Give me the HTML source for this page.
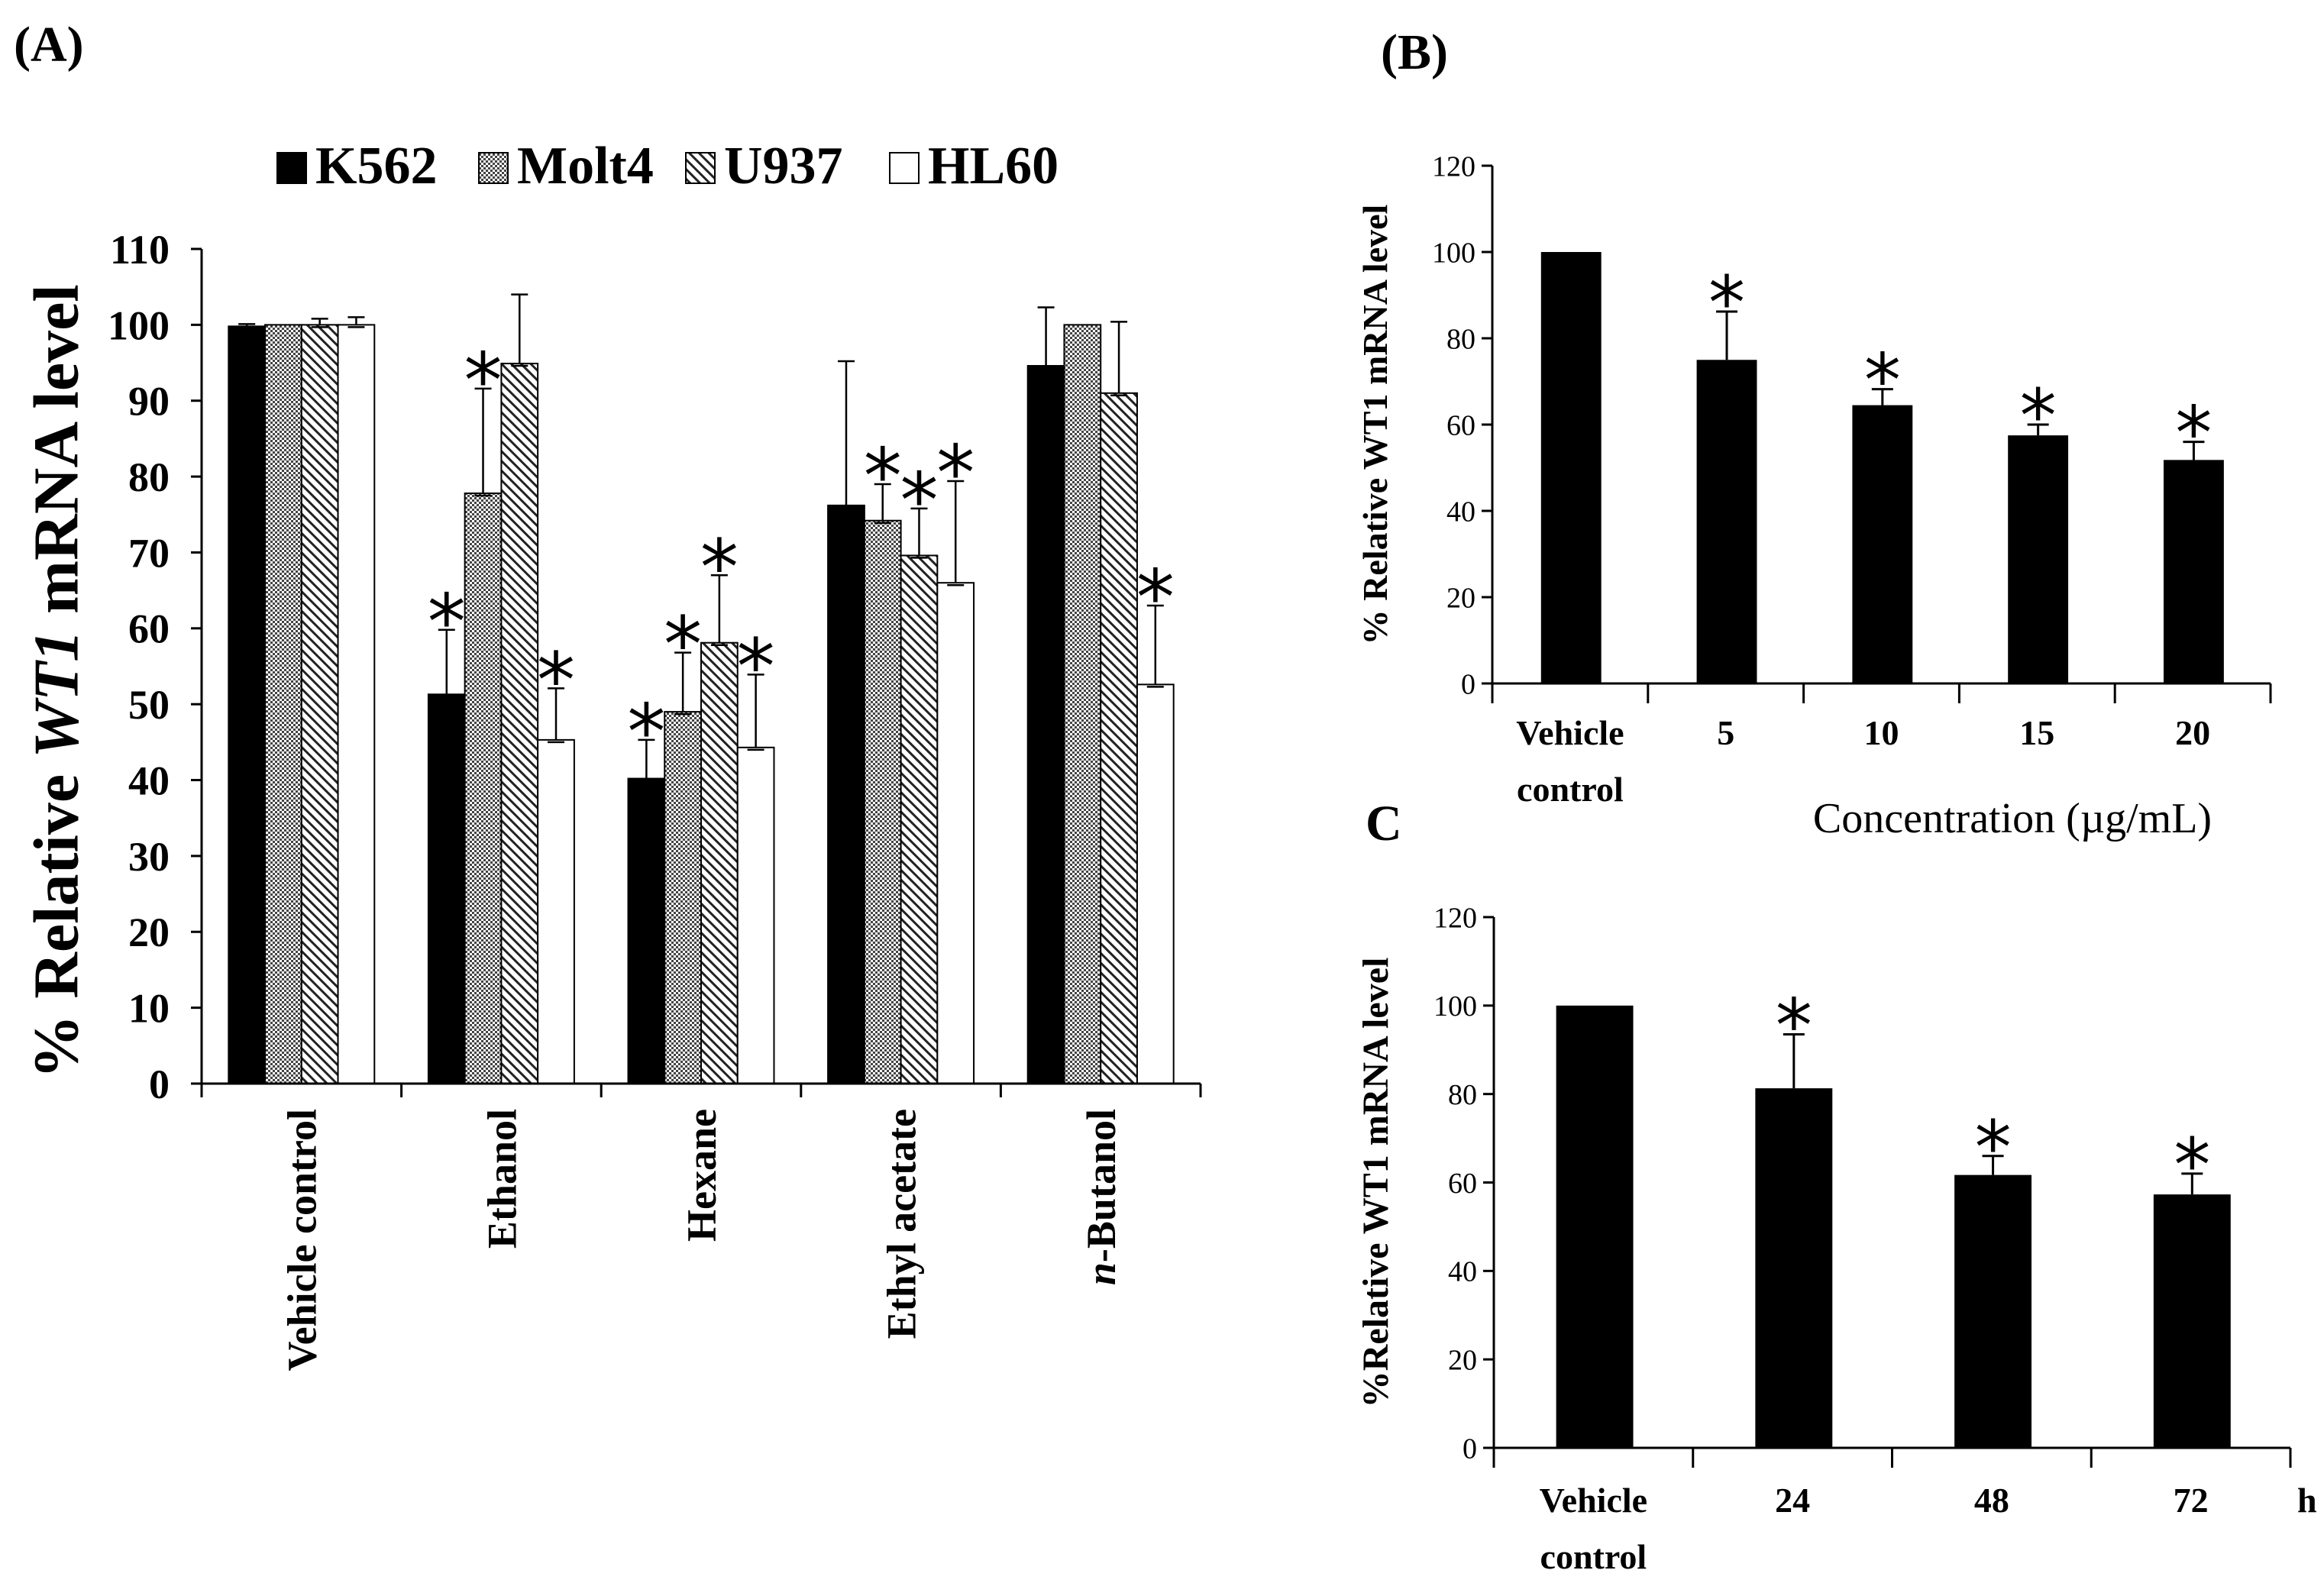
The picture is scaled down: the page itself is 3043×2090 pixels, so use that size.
<!DOCTYPE html>
<html><head><meta charset="utf-8"><style>
html,body{margin:0;padding:0;background:#fff;}
svg{display:block;font-family:"Liberation Serif",serif;}
</style></head><body>
<svg id="fig" width="3043" height="2090" viewBox="0 0 3043 2090" xmlns="http://www.w3.org/2000/svg">
<defs>
<pattern id="pMolt" patternUnits="userSpaceOnUse" width="6" height="6"><rect width="6" height="6" fill="#fff"/><rect width="3" height="3" fill="#444"/><rect x="3" y="3" width="3" height="3" fill="#444"/></pattern>
<pattern id="pU937" patternUnits="userSpaceOnUse" width="9" height="9" patternTransform="rotate(-45)"><rect width="9" height="9" fill="#fff"/><rect width="3" height="9" fill="#222"/></pattern>
</defs>
<text x="18" y="80" font-size="66" font-weight="bold">(A)</text>
<text x="1808" y="90" font-size="66" font-weight="bold">(B)</text>
<text x="1788" y="1100" font-size="66" font-weight="bold">C</text>
<g id="A"></g><g id="B"></g><g id="C"></g>
</svg>
<script>
const NS="http://www.w3.org/2000/svg";
// Panel A data
const catsA=["Vehicle control","Ethanol","Hexane","Ethyl acetate","n-Butanol"];
const seriesA=["K562","Molt4","U937","HL60"];
const k562=[99.8,51.3,40.2,76.2,94.6];
const molt4=[100,77.8,49,74.2,100];
const u937=[100,94.9,58.1,69.6,91];
const hl60=[100,45.3,44.3,66,52.6];
const k562Err=[0.3,8.5,5.1,19,7.7];
const molt4Err=[0,13.8,7.8,4.8,0];
const u937Err=[0.8,9.1,8.9,6.2,9.4];
const hl60Err=[1,6.8,9.6,13.4,10.4];
const k562Sig=[0,1,1,0,0];
const molt4Sig=[0,1,1,1,0];
const u937Sig=[0,0,1,1,0];
const hl60Sig=[0,1,1,1,1];
const ticksA=[0,10,20,30,40,50,60,70,80,90,100,110];
// Panel B data
const catsB=["Vehicle control","5","10","15","20"];
const valsB=[100,75,64.5,57.5,51.8];
const errB=[0,11.2,3.7,2.5,4.2];
const sigB=[0,1,1,1,1];
const ticksB=[0,20,40,60,80,100,120];
// Panel C data
const catsC=["Vehicle control","24","48","72"];
const valsC=[100,81.3,61.7,57.3];
const errC=[0,12.2,4.3,4.7];
const sigC=[0,1,1,1];
const ticksC=[0,20,40,60,80,100,120];

function el(parent,tag,attrs,text){const e=document.createElementNS(NS,tag);for(const k in attrs)e.setAttribute(k,attrs[k]);if(text!==undefined)e.textContent=text;parent.appendChild(e);return e;}

// ---------- Panel A ----------
(function(){
const g=document.getElementById('A');
const x0=264,x1=1572,y0=1419,yTop=326,max=110;
const y=v=>y0-(v/max)*(y0-yTop);
const cw=(x1-x0)/catsA.length;
const bw=cw*0.1825, off=cw*0.135;
const vals=[k562,molt4,u937,hl60],errs=[k562Err,molt4Err,u937Err,hl60Err],sigs=[k562Sig,molt4Sig,u937Sig,hl60Sig];
const fills=["#000","url(#pMolt)","url(#pU937)","#fff"];
for(let c=0;c<catsA.length;c++){
 for(let s=0;s<4;s++){
  const bx=x0+c*cw+off+s*bw,v=vals[s][c];
  const r=el(g,'rect',{x:bx,y:y(v),width:bw,height:y0-y(v),fill:fills[s],stroke:'#000','stroke-width':2});
  
  
  const e=errs[s][c];
  if(e>0){const cx=bx+bw/2;
   const l=el(g,'path',{d:`M${cx} ${y(v)}V${y(v+e)}M${cx-11} ${y(v+e)}H${cx+11}M${cx-11} ${y(v)+3}H${cx+11}`,stroke:'#000','stroke-width':2.5,fill:'none'});
   
   }
  if(sigs[s][c]){const t=el(g,'text',{x:bx+bw/2,y:y(v+e)+24,'text-anchor':'middle','font-size':100,'font-family':'"DejaVu Sans",sans-serif'},'*');
   
   }
 }
 const lx=x0+(c+0.5)*cw;
 const lab=el(g,'text',{x:lx,y:1452,transform:`rotate(-90 ${lx} 1452)`,'text-anchor':'end','font-size':54,'font-weight':'bold',dy:'0.35em'});
 
 
 if(catsA[c]==="n-Butanol"){el(lab,'tspan',{'font-style':'italic'},'n');el(lab,'tspan',{},'-Butanol');} else lab.textContent=catsA[c];
}
const ax=el(g,'path',{d:`M${x0} ${yTop}V${y0}H${x1}`,stroke:'#000','stroke-width':3,fill:'none'});


for(let c=0;c<=catsA.length;c++)el(g,'line',{x1:x0+c*cw,x2:x0+c*cw,y1:y0,y2:y0+18,stroke:'#000','stroke-width':3});
ticksA.forEach(t=>{el(g,'line',{x1:x0-14,x2:x0,y1:y(t),y2:y(t),stroke:'#000','stroke-width':3});
 const tl=el(g,'text',{x:x0-42,y:y(t),'text-anchor':'end',dy:'0.35em','font-size':54,'font-weight':'bold'},t);
 
 });
const yt=el(g,'text',{x:72,y:(y0+yTop)/2+20,transform:`rotate(-90 72 ${(y0+yTop)/2+20})`,'text-anchor':'middle',dy:'0.35em','font-size':84,'font-weight':'bold'},'');


el(yt,'tspan',{},'% Relative ');el(yt,'tspan',{'font-style':'italic'},'WT1');el(yt,'tspan',{},' mRNA level');
const lxs=[363,627,898,1165];
for(let s=0;s<4;s++){
 const sq=el(g,'rect',{x:lxs[s],y:200,width:38,height:40,fill:fills[s],stroke:'#000','stroke-width':2});
 
 
 const lt=el(g,'text',{x:lxs[s]+50,y:240,'font-size':70,'font-weight':'bold'},seriesA[s]);
 
 
}
})();

// ---------- Panels B & C ----------
function simple(gid,cats,vals,errs,sigs,ticks,P,ytitle){
 const g=document.getElementById(gid);
 const {x0,x1,y0,yTop}=P,max=120;
 const y=v=>y0-(v/max)*(y0-yTop);
 const cw=(x1-x0)/cats.length,bw=cw*0.387,off=cw*0.313;
 for(let c=0;c<cats.length;c++){
  const bx=x0+c*cw+off,v=vals[c];
  const r=el(g,'rect',{x:bx,y:y(v),width:bw,height:y0-y(v),fill:'#000'});
  
  
  const e=errs[c],cx=bx+bw/2;
  if(e>0){const l=el(g,'path',{d:`M${cx} ${y(v)}V${y(v+e)}M${cx-14} ${y(v+e)}H${cx+14}`,stroke:'#000','stroke-width':3,fill:'none'});
   
   }
  if(sigs[c]){const t=el(g,'text',{x:cx,y:y(v+e)+22,'text-anchor':'middle','font-size':96,'font-family':'"DejaVu Sans",sans-serif'},'*');
   
   }
  const lx=x0+(c+0.5)*cw;
  const lab=el(g,'text',{x:lx,y:y0+P.labDy,'text-anchor':'middle','font-size':46,'font-weight':'bold'},'');
  
  
  if(cats[c]==="Vehicle control"){el(lab,'tspan',{x:lx},'Vehicle');el(lab,'tspan',{x:lx,dy:74},'control');} else lab.textContent=cats[c];
 }
 const ax=el(g,'path',{d:`M${x0} ${yTop}V${y0}H${x1}`,stroke:'#000','stroke-width':3,fill:'none'});
 
 
 for(let c=0;c<=cats.length;c++)el(g,'line',{x1:x0+c*cw,x2:x0+c*cw,y1:y0,y2:y0+26,stroke:'#000','stroke-width':3});
 ticks.forEach(t=>{el(g,'line',{x1:x0-14,x2:x0,y1:y(t),y2:y(t),stroke:'#000','stroke-width':3});
  const tl=el(g,'text',{x:x0-22,y:y(t),'text-anchor':'end',dy:'0.35em','font-size':38},t);
  
  });
 const yx=P.titleX,yy=(y0+yTop)/2;
 const yt=el(g,'text',{x:yx,y:yy,transform:`rotate(-90 ${yx} ${yy})`,'text-anchor':'middle',dy:'0.35em','font-size':P.titleSize,'font-weight':'bold'},ytitle);
 
 
 return g;
}
const gB=simple('B',catsB,valsB,errB,sigB,ticksB,{x0:1954,x1:2973,y0:895,yTop:217,labDy:80,titleX:1800,titleSize:46},'% Relative WT1 mRNA level');
const xt=el(gB,'text',{x:2635,y:1090,'text-anchor':'middle','font-size':56},'Concentration (µg/mL)');


const gC=simple('C',catsC,valsC,errC,sigC,ticksC,{x0:1956,x1:2999,y0:1896,yTop:1201,labDy:84,titleX:1800,titleSize:48},'%Relative WT1 mRNA level');
const h=el(gC,'text',{x:3008,y:1980,'font-size':46,'font-weight':'bold'},'h');


</script>
</body></html>
